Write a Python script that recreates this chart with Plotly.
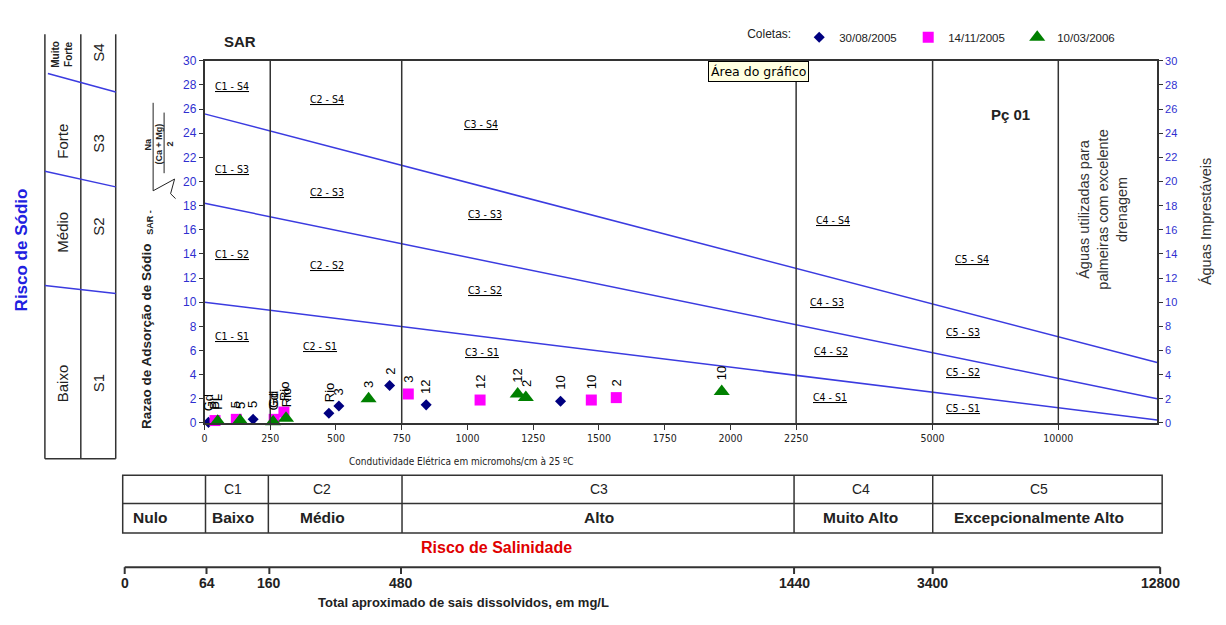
import numpy as np
import plotly.graph_objects as go

W, H = 1226, 625

# ---------------- data ----------------
dates = ["30/08/2005", "14/11/2005", "10/03/2006"]

# electrical conductivity (µmhos/cm), SAR and sampling-point label per date
ec_0830 = [15, 185, 473, 511, 704, 843, 1354]
sar_0830 = [0.05, 0.3, 0.8, 1.4, 3.1, 1.5, 1.8]
lbl_0830 = ["Gd", "5", "Rio", "3", "2", "12", "10"]

ec_1411 = [40, 121, 265, 302, 775, 1048, 1471, 1566]
sar_1411 = [0.2, 0.3, 0.3, 0.9, 2.4, 1.9, 1.9, 2.1]
lbl_1411 = ["PL", "5", "Gd", "Rio", "3", "12", "10", "2"]

ec_1003 = [50, 135, 261, 310, 624, 1191, 1222, 1967]
sar_1003 = [0.15, 0.2, 0.1, 0.4, 2.0, 2.4, 2.1, 2.6]
lbl_1003 = ["PL", "5", "Gd", "Rio", "3", "12", "2", "10"]

# sodium-hazard boundaries (SAR at left and right ends of the diagram)
sar_bound_left = [10.0, 18.2, 25.6]
sar_bound_right = [0.25, 2.0, 5.0]

# salinity class boundaries (µmhos/cm)
ec_class_bounds = [250, 750, 2250, 5000, 10000]

# conductivity ticks
ec_ticks = [0, 250, 500, 750, 1000, 1250, 1500, 1750, 2000, 2250, 5000, 10000]

# total dissolved solids scale (mg/L)
tds_labels = ["0", "64", "160", "480", "1440", "3400", "12800"]

# salinity table
sal_classes = ["", "C1", "C2", "C3", "C4", "C5"]
sal_names = ["Nulo", "Baixo", "Médio", "Alto", "Muito Alto", "Excepcionalmente Alto"]

# sodium table
sod_classes = ["S1", "S2", "S3", "S4"]
sod_names = ["Baixo", "Médio", "Forte", "Muito<br>Forte"]

# zone names inside the diagram (conductivity, SAR)
zones = [
    ("C1 - S4", 106, 27.9), ("C1 - S3", 106, 21.0), ("C1 - S2", 106, 14.0), ("C1 - S1", 106, 7.2),
    ("C2 - S4", 467, 26.8), ("C2 - S3", 467, 19.1), ("C2 - S2", 467, 13.1), ("C2 - S1", 440, 6.4),
    ("C3 - S4", 1051, 24.8), ("C3 - S3", 1066, 17.3), ("C3 - S2", 1066, 11.05), ("C3 - S1", 1055, 5.9),
    ("C4 - S4", 2390, 16.8), ("C4 - S3", 2367, 10.0), ("C4 - S2", 2382, 5.95), ("C4 - S1", 2379, 2.15),
    ("C5 - S4", 2917, 13.6), ("C5 - S3", 2883, 7.5), ("C5 - S2", 2883, 4.2), ("C5 - S1", 2883, 1.25),
]

# ---------------- axis scale ----------------
# the conductivity axis is linear up to 2250 and compressed beyond it
EC_KNOTS = [0, 2250, 5000, 10000]
POS_KNOTS = [0, 2250, 2769, 3247]
X_END = 3623


def ec_pos(v):
    return np.interp(np.asarray(v, dtype=float), EC_KNOTS, POS_KNOTS)


FONT = "Liberation Sans, Arial, sans-serif"
NARROW = "Liberation Sans Narrow, Arial Narrow, DejaVu Sans Condensed, Liberation Sans, Arial"
AX_BLUE = "#2f2fd0"
LINE_BLUE = "#3b3be0"
INK = "#222222"


def px(x):
    return x / W


def py(y):
    return 1 - y / H


def ptext(x, y, text, size=12, color=INK, bold=False, angle=0, family=FONT, **kw):
    if bold:
        text = "<b>" + text + "</b>"
    d = dict(xref="paper", yref="paper", x=px(x), y=py(y), text=text, showarrow=False,
             font=dict(size=size, color=color, family=family), textangle=angle,
             xanchor="center", yanchor="middle")
    d.update(kw)
    return d


def pline(x0, y0, x1, y1, color="#333333", width=1.5):
    return dict(type="line", xref="paper", yref="paper", x0=px(x0), y0=py(y0),
                x1=px(x1), y1=py(y1), line=dict(color=color, width=width))


fig = go.Figure()

# sodium hazard boundary lines
for a, b in zip(sar_bound_left, sar_bound_right):
    fig.add_trace(go.Scatter(x=[0, X_END], y=[a, b], mode="lines",
                             line=dict(color=LINE_BLUE, width=1.5),
                             showlegend=False, hoverinfo="skip"))

series = [
    (dates[0], ec_0830, sar_0830, lbl_0830, "diamond", "#000080", 8.5),
    (dates[1], ec_1411, sar_1411, lbl_1411, "square", "#ff00ff", 11),
    (dates[2], ec_1003, sar_1003, lbl_1003, "triangle-up", "#008000", 14),
]

annotations = []
for name, ec, sar, lbl, sym, col, size in series:
    xs = ec_pos(ec)
    fig.add_trace(go.Scatter(x=xs, y=sar, mode="markers", name=name,
                             marker=dict(symbol=sym, color=col, size=size,
                                         line=dict(width=0)),
                             cliponaxis=False))
    for x, y, t in zip(xs, sar, lbl):
        annotations.append(dict(x=x, y=y, xref="x", yref="y", text=t, showarrow=False,
                                textangle=-90, xanchor="center", yanchor="bottom",
                                yshift=9, font=dict(size=13, color="black", family=FONT)))

# secondary y axis (right side) needs a trace
fig.add_trace(go.Scatter(x=[0], y=[0], yaxis="y2", mode="markers",
                         marker=dict(opacity=0), showlegend=False, hoverinfo="skip"))

# zone names
for t, x, y in zones:
    annotations.append(dict(x=x, y=y, xref="x", yref="y",
                            text="<u>" + t + "</u>", showarrow=False,
                            font=dict(size=10.5, color="black", family=NARROW)))

shapes = []
# salinity class boundaries
for v in ec_class_bounds:
    xv = float(ec_pos(v))
    shapes.append(dict(type="line", xref="x", yref="y", x0=xv, x1=xv, y0=0, y1=30,
                       line=dict(color="#333333", width=1.5)))

# ---- left panel: sodium hazard ----
for x in (42, 78, 113):
    shapes.append(pline(x, 28, x, 462))
shapes.append(pline(42, 462, 113, 462))
for (x0, y0, x1, y1) in [(45, 68, 113, 87), (42, 168, 113, 184), (42, 285, 113, 293)]:
    shapes.append(pline(x0, y0, x1, y1, color=LINE_BLUE, width=1.5))
name_y = [385, 230, 137, 48]
class_y = [385, 225, 140, 47]
for i, (c, n) in enumerate(zip(sod_classes, sod_names)):
    annotations.append(ptext(96, class_y[i], c, size=15, angle=-90))
    if i < 3:
        annotations.append(ptext(60, name_y[i], n, size=15, angle=-90))
    else:
        annotations.append(ptext(59, name_y[i], n, size=10, bold=True, angle=-90))
annotations.append(ptext(18, 248, "Risco de Sódio", size=17, color="#2020e0", bold=True,
                         angle=-90))

# ---- y title with SAR formula ----
annotations.append(ptext(144, 337, "Razao de Adsorção de Sódio", size=13.5, bold=True,
                         angle=-90))
annotations.append(ptext(147, 220, "SAR -", size=9, bold=True, angle=-90))
annotations.append(ptext(145, 140, "Na", size=9, bold=True, angle=-90))
annotations.append(ptext(156, 140, "(Ca + Mg)", size=9, bold=True, angle=-90))
annotations.append(ptext(167, 140, "2", size=9, bold=True, angle=-90))
shapes.append(pline(150.5, 98, 150.5, 188, color=INK, width=1))
shapes.append(pline(161.5, 108, 161.5, 170, color=INK, width=1))
shapes.append(dict(type="path", xref="paper", yref="paper",
                   path="M {} {} L {} {} L {} {} L {} {}".format(
                       px(150.5), py(188), px(172), py(176), px(168), py(191), px(173), py(196)),
                   line=dict(color=INK, width=1)))

# ---- labels on the diagram ----
annotations.append(ptext(238, 35, "SAR", size=15, bold=True))
annotations.append(ptext(1010, 110, "Pç 01", size=15, bold=True))
annotations.append(ptext(757, 66, "Área do gráfico", size=12.5, color="black",
                         family="DejaVu Sans, Liberation Sans, sans-serif",
                         bgcolor="#ffffe1", bordercolor="#000000", borderwidth=1,
                         borderpad=2))
annotations.append(ptext(1103, 207, "Águas utilizadas para<br>palmeiras com excelente<br>drenagem",
                         size=14.5, angle=-90, color="#333333"))
annotations.append(ptext(1206, 220, "Águas Imprestáveis", size=14.5, angle=-90,
                         color="#333333"))
annotations.append(ptext(460, 465, "Condutividade Elétrica em micromohs/cm à 25 ºC",
                         size=10, family=NARROW))

# ---- salinity hazard table ----
TX0, TX1 = 120, 1162
TY0, TYM, TY1 = 479, 508, 538
shapes.append(dict(type="rect", xref="paper", yref="paper", x0=px(TX0), x1=px(TX1),
                   y0=py(TY1), y1=py(TY0), line=dict(color="#333333", width=1.5)))
shapes.append(pline(TX0, TYM, TX1, TYM))
cell_edges = [TX0, 203, 266, 400, 793, 932, TX1]
for x in cell_edges[1:-1]:
    shapes.append(pline(x, TY0, x, TY1))
text_x = [147, 231, 320, 597, 860, 1039]
for i in range(6):
    if sal_classes[i]:
        annotations.append(ptext(text_x[i], 493.5, sal_classes[i], size=14))
    annotations.append(ptext(text_x[i], 522, sal_names[i], size=15.5, bold=True))
annotations.append(ptext(495, 553, "Risco de Salinidade", size=16, bold=True, color="#e00000"))

# ---- total dissolved solids scale ----
tds_x = [122, 204, 267, 399, 793, 932, 1160]
shapes.append(pline(122, 573, 1160, 573, width=2))
for x, t in zip(tds_x, tds_labels):
    shapes.append(pline(x, 573, x, 580, width=2))
    annotations.append(ptext(x, 589, t, size=14, bold=True))
annotations.append(ptext(462, 609, "Total aproximado de sais dissolvidos, em mg/L",
                         size=13, bold=True))

ytick = dict(range=[0, 30], dtick=2, tick0=0, ticks="outside", ticklen=4,
             tickcolor="#333333", showline=True, linecolor="#333333", linewidth=1.5,
             showgrid=False, zeroline=False,
             tickfont=dict(size=12, color=AX_BLUE, family=FONT),
             domain=[py(425.5), py(55)])

fig.update_layout(
    width=W, height=H,
    margin=dict(l=0, r=0, t=0, b=0),
    paper_bgcolor="white", plot_bgcolor="white",
    font=dict(family=FONT),
    xaxis=dict(domain=[px(202), px(1157)], range=[0, X_END],
               tickvals=list(ec_pos(ec_ticks)), ticktext=[str(v) for v in ec_ticks],
               ticks="outside", ticklen=5, tickcolor="#333333",
               showline=True, linecolor="#333333", linewidth=1.5, mirror=True,
               showgrid=False, zeroline=False,
               tickfont=dict(size=10.5, color=INK, family=NARROW)),
    yaxis=dict(**ytick),
    yaxis2=dict(**ytick, overlaying="y", side="right", anchor="x",
                tickfont_size=11),
    legend=dict(orientation="h", x=px(744), y=py(31), xanchor="left", yanchor="middle",
                title=dict(text="Coletas:", font=dict(size=12, color=INK)),
                font=dict(size=11.5, color=INK, family=FONT),
                entrywidth=64, entrywidthmode="pixels",
                bgcolor="rgba(0,0,0,0)", itemsizing="trace"),
    shapes=shapes,
    annotations=annotations,
    showlegend=True,
)

fig.write_html("out.html")
